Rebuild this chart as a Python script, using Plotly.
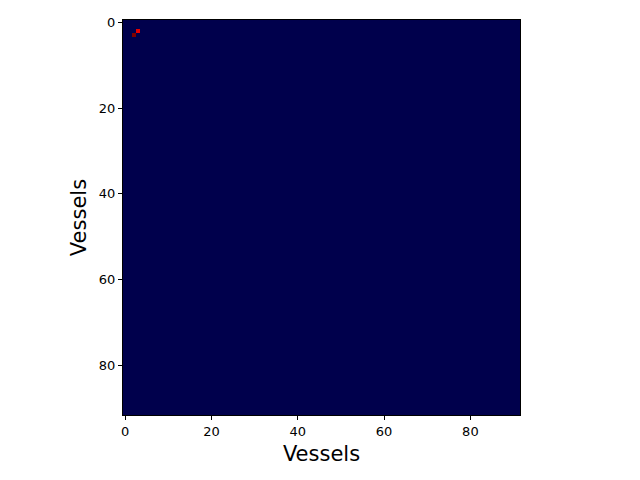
import plotly.graph_objects as go

n_vessels = 92
vessel_ids = list(range(n_vessels))
# non-zero entries of the matrix (row, col, value); all other cells are 0
nz_rows = [2, 3]
nz_cols = [3, 2]
nz_vals = [0.8, 1.0]

z = [[0.0] * n_vessels for _ in range(n_vessels)]
for r, c, v in zip(nz_rows, nz_cols, nz_vals):
    z[r][c] = v

seismic = [
    [0.0, "rgb(0,0,76)"],
    [0.25, "rgb(0,0,255)"],
    [0.5, "rgb(255,255,255)"],
    [0.75, "rgb(255,0,0)"],
    [1.0, "rgb(127,0,0)"],
]

fig = go.Figure(go.Heatmap(
    z=z, x=vessel_ids, y=vessel_ids, colorscale=seismic,
    zmin=0, zmax=1, showscale=False, hoverinfo="skip",
))

axis_common = dict(
    showgrid=False, zeroline=False, showline=True, linecolor="black",
    linewidth=1, mirror=True, ticks="outside", ticklen=4, tickcolor="black",
    tickfont=dict(family="DejaVu Sans", size=13, color="black"),
    tickvals=[0, 20, 40, 60, 80],
)

fig.update_layout(
    width=640, height=480,
    margin=dict(l=115, r=128, t=7, b=73),
    paper_bgcolor="white", plot_bgcolor="white",
    xaxis=dict(range=[-0.5, 91.5], title=dict(text="Vessels", font=dict(family="DejaVu Sans", size=21, color="black"), standoff=8), **axis_common),
    yaxis=dict(range=[91.5, -0.5], title=dict(text="Vessels", font=dict(family="DejaVu Sans", size=21, color="black"), standoff=6), **axis_common),
)

fig.write_html("out.html")
